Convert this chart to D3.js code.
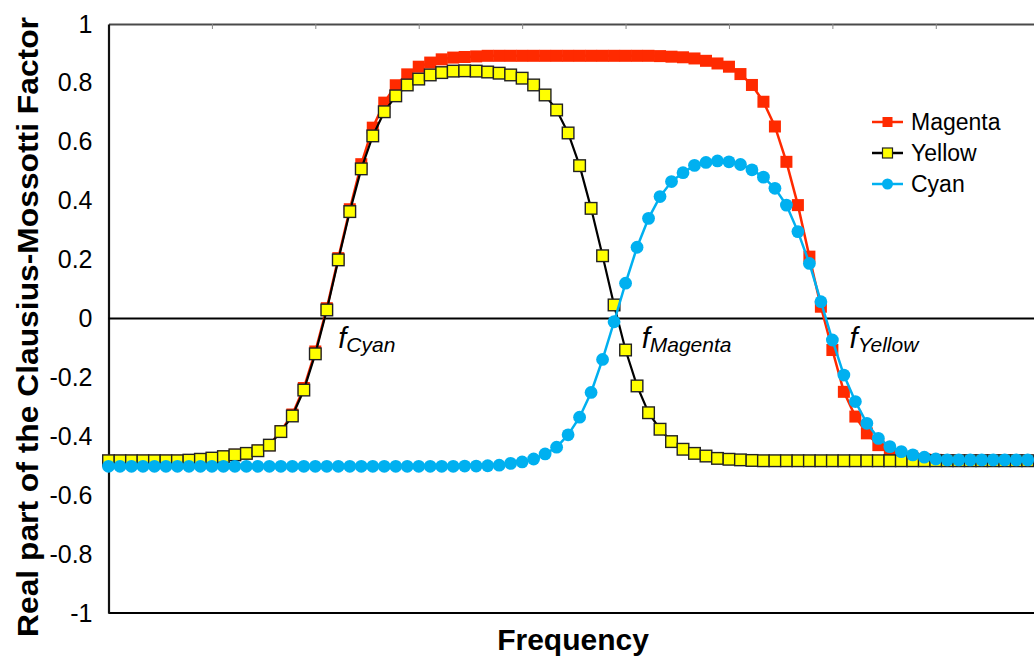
<!DOCTYPE html>
<html>
<head>
<meta charset="utf-8">
<script src="https://cdn.jsdelivr.net/npm/d3@7"></script>
<style>
  body { margin: 0; background: #fff; }
  svg { display: block; font-family: "Liberation Sans", Arial, sans-serif; }
  .tick-label { font-size: 25px; fill: #000; }
  .axis-title { font-size: 30px; font-weight: bold; fill: #000; }
  .legend-text { font-size: 23px; fill: #000; }
  .note { font-style: italic; fill: #000; }
</style>
</head>
<body>
<div class="cm-container"></div>
<script>
var width = 1034;
var height = 659;

// values, one per frequency step (81 steps)
var magenta = [
  -0.483, -0.483, -0.483, -0.483, -0.483, -0.483, -0.483, -0.481, -0.478, -0.474,
  -0.469, -0.463, -0.458, -0.449, -0.430, -0.382, -0.326, -0.236, -0.112, 0.035,
  0.205, 0.371, 0.524, 0.648, 0.733, 0.792, 0.829, 0.855, 0.869, 0.880,
  0.886, 0.888, 0.890, 0.892, 0.892, 0.892, 0.892, 0.892, 0.892, 0.892,
  0.892, 0.892, 0.892, 0.892, 0.892, 0.892, 0.892, 0.892, 0.891, 0.889,
  0.887, 0.883, 0.875, 0.866, 0.855, 0.830, 0.793, 0.736, 0.652, 0.532,
  0.385, 0.210, 0.040, -0.107, -0.249, -0.333, -0.390, -0.430, -0.455, -0.468,
  -0.475, -0.478, -0.480, -0.482, -0.483, -0.483, -0.483, -0.483, -0.483, -0.483,
  -0.483
];
var yellow = [
  -0.483, -0.483, -0.483, -0.483, -0.483, -0.483, -0.483, -0.481, -0.478, -0.474,
  -0.469, -0.463, -0.458, -0.449, -0.430, -0.384, -0.331, -0.243, -0.120, 0.029,
  0.199, 0.363, 0.508, 0.620, 0.702, 0.756, 0.793, 0.813, 0.827, 0.835,
  0.840, 0.841, 0.840, 0.837, 0.833, 0.827, 0.816, 0.793, 0.759, 0.708,
  0.630, 0.519, 0.374, 0.213, 0.046, -0.107, -0.229, -0.320, -0.376, -0.418,
  -0.444, -0.458, -0.467, -0.475, -0.478, -0.480, -0.482, -0.483, -0.483, -0.483,
  -0.483, -0.483, -0.483, -0.483, -0.483, -0.483, -0.483, -0.483, -0.483, -0.483,
  -0.483, -0.483, -0.483, -0.483, -0.483, -0.483, -0.483, -0.483, -0.483, -0.483,
  -0.483
];
var cyan = [
  -0.502, -0.502, -0.502, -0.502, -0.502, -0.502, -0.502, -0.502, -0.502, -0.502,
  -0.502, -0.502, -0.502, -0.502, -0.502, -0.502, -0.502, -0.502, -0.502, -0.502,
  -0.502, -0.502, -0.502, -0.502, -0.502, -0.502, -0.502, -0.502, -0.502, -0.502,
  -0.502, -0.501, -0.501, -0.500, -0.498, -0.492, -0.487, -0.477, -0.460, -0.437,
  -0.395, -0.335, -0.251, -0.139, -0.011, 0.120, 0.242, 0.340, 0.414, 0.465,
  0.495, 0.520, 0.530, 0.535, 0.532, 0.523, 0.505, 0.480, 0.442, 0.385,
  0.295, 0.187, 0.057, -0.073, -0.192, -0.282, -0.356, -0.407, -0.435, -0.452,
  -0.463, -0.471, -0.477, -0.480, -0.480, -0.480, -0.480, -0.480, -0.480, -0.480,
  -0.480
];
var yTicks = [-1, -0.8, -0.6, -0.4, -0.2, 0, 0.2, 0.4, 0.6, 0.8, 1];
var topTicks = [9, 18, 27, 36, 45, 54, 63, 72];
var seriesNames = ["Magenta", "Yellow", "Cyan"];
// crossover frequencies: label and step where it is written
var notes = [
  { name: "Cyan", step: 20.0 },
  { name: "Magenta", step: 46.4 },
  { name: "Yellow", step: 64.5 }
];

var svg = d3.select(".cm-container")
  .append("svg")
  .attr("width", width)
  .attr("height", height);

var xScale = d3.scaleLinear()
  .domain([0, 81])
  .range([108.5, 1039.2]);
var yScale = d3.scaleLinear()
  .domain([-1, 1])
  .range([613, 24]);

// plot frame: left and bottom black, top with small ticks
svg.append("line")
  .attr("x1", xScale(0)).attr("x2", xScale(81))
  .attr("y1", yScale(-1)).attr("y2", yScale(-1))
  .style("stroke", "#000").style("stroke-width", 2.2);

var topAxis = d3.axisBottom(xScale)
  .tickValues(topTicks)
  .tickSize(5)
  .tickSizeOuter(0)
  .tickFormat("");
svg.append("g")
  .attr("transform", "translate(0," + yScale(1) + ")")
  .call(topAxis)
  .call(function(g) {
    g.select(".domain").style("stroke", "#4a4a4a").style("stroke-width", 2.2);
    g.selectAll(".tick line").style("stroke", "#888").style("stroke-width", 1);
  });

var yAxis = d3.axisLeft(yScale)
  .tickValues(yTicks)
  .tickSize(0)
  .tickPadding(16)
  .tickFormat(function(d) { return d === 0 ? "0" : String(+d.toFixed(1)); });
svg.append("g")
  .attr("transform", "translate(" + xScale(0) + ",0)")
  .call(yAxis)
  .call(function(g) {
    g.select(".domain").style("stroke", "#111").style("stroke-width", 2.2);
    g.selectAll("text").attr("class", "tick-label").attr("font-family", null).attr("font-size", null);
  });

// zero line
svg.append("line")
  .attr("x1", xScale(0)).attr("x2", xScale(81))
  .attr("y1", yScale(0)).attr("y2", yScale(0))
  .style("stroke", "#000").style("stroke-width", 1.8);

var valueline = d3.line()
  .x(function(d, i) { return xScale(i); })
  .y(function(d) { return yScale(d); });

// Magenta (behind)
svg.append("path")
  .datum(magenta)
  .attr("d", valueline)
  .style("fill", "none").style("stroke", "#ff2a00").style("stroke-width", 2.5);
svg.append("g").selectAll("rect")
  .data(magenta)
  .enter().append("rect")
  .attr("x", function(d, i) { return xScale(i) - 6; })
  .attr("y", function(d) { return yScale(d) - 6; })
  .attr("width", 12).attr("height", 12)
  .style("fill", "#ff2a00");

// Yellow
svg.append("path")
  .datum(yellow)
  .attr("d", valueline)
  .style("fill", "none").style("stroke", "#000").style("stroke-width", 2.2);
svg.append("g").selectAll("rect")
  .data(yellow)
  .enter().append("rect")
  .attr("x", function(d, i) { return xScale(i) - 5.8; })
  .attr("y", function(d) { return yScale(d) - 5.8; })
  .attr("width", 11.6).attr("height", 11.6)
  .style("fill", "#ffff00").style("stroke", "#222").style("stroke-width", 1.4);

// Cyan (on top)
svg.append("path")
  .datum(cyan)
  .attr("d", valueline)
  .style("fill", "none").style("stroke", "#00b0f0").style("stroke-width", 2.5);
svg.append("g").selectAll("circle")
  .data(cyan)
  .enter().append("circle")
  .attr("cx", function(d, i) { return xScale(i); })
  .attr("cy", function(d) { return yScale(d); })
  .attr("r", 6.4)
  .style("fill", "#00b0f0");

// crossover labels
notes.forEach(function(n) {
  var t = svg.append("text")
    .attr("class", "note")
    .attr("x", xScale(n.step))
    .attr("y", yScale(-0.1));
  t.append("tspan").style("font-size", "29px").text("f");
  t.append("tspan").style("font-size", "21px").attr("dy", 4).text(n.name);
});

// legend
var legend = svg.append("g").attr("transform", "translate(872,122)");
seriesNames.forEach(function(name, i) {
  var g = legend.append("g").attr("transform", "translate(0," + (i * 31) + ")");
  var col = i === 0 ? "#ff2a00" : (i === 1 ? "#000" : "#00b0f0");
  g.append("line")
    .attr("x1", 0).attr("x2", 31)
    .style("stroke", col).style("stroke-width", 2.5);
  if (i === 2) {
    g.append("circle").attr("cx", 15.5).attr("r", 5.5).style("fill", "#00b0f0");
  } else {
    g.append("rect")
      .attr("x", 10.5).attr("y", -5).attr("width", 10).attr("height", 10)
      .style("fill", i === 0 ? "#ff2a00" : "#ffff00")
      .style("stroke", i === 0 ? "none" : "#222").style("stroke-width", 1.2);
  }
  g.append("text")
    .attr("class", "legend-text")
    .attr("x", 39)
    .attr("y", 8)
    .text(name);
});

// axis titles
svg.append("text")
  .attr("class", "axis-title")
  .attr("text-anchor", "middle")
  .attr("x", 573)
  .attr("y", 650)
  .text("Frequency");

svg.append("text")
  .attr("class", "axis-title")
  .attr("transform", "translate(38,327) rotate(-90)")
  .attr("text-anchor", "middle")
  .attr("textLength", 620)
  .attr("lengthAdjust", "spacingAndGlyphs")
  .text("Real part of the Clausius-Mossotti Factor");
</script>
</body>
</html>
